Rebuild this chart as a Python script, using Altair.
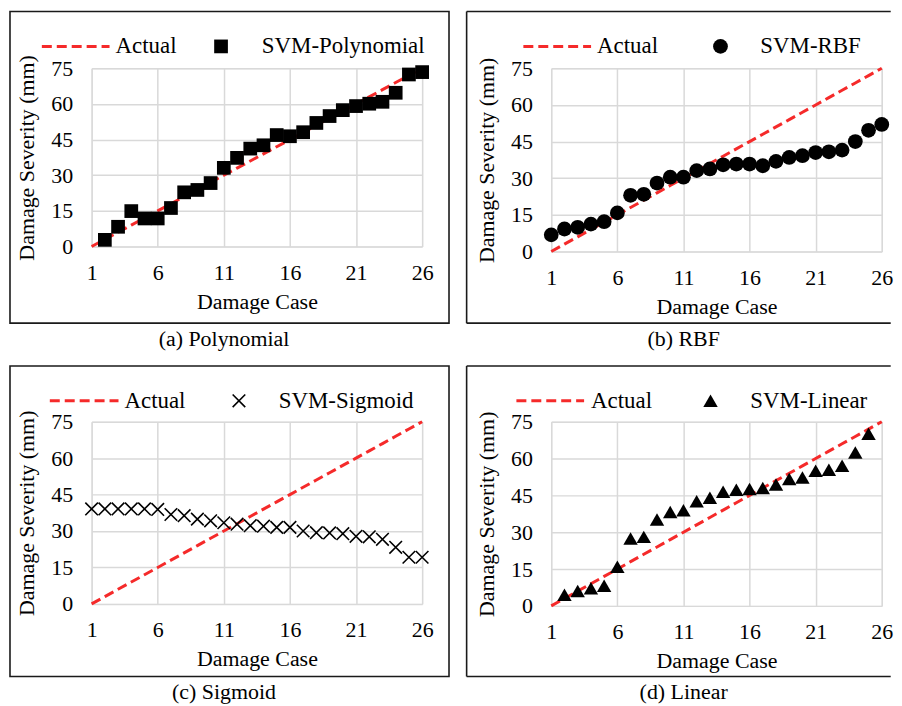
import altair as alt
import pandas as pd

FONT = "Liberation Serif"
RED = "#f52a2a"
GRID = "#d9d9d9"

# ---------------- data ----------------
cases = [1, 2, 3, 4, 5, 6, 7, 8, 9, 10, 11, 12, 13, 14, 15, 16, 17, 18, 19, 20, 21, 22, 23, 24, 25, 26]
actual = [0, 3, 6, 9, 12, 15, 18, 21, 24, 27, 30, 33, 36, 39, 42, 45, 48, 51, 54, 57, 60, 63, 66, 69, 72, 75]

poly_cases = [2, 3, 4, 5, 6, 7, 8, 9, 10, 11, 12, 13, 14, 15, 16, 17, 18, 19, 20, 21, 22, 23, 24, 25, 26]
poly_vals = [2.8, 8.3, 14.9, 11.8, 11.8, 16.2, 22.8, 23.8, 26.7, 33.1, 37.3, 41.2, 42.6, 46.9, 46.4,
             48.1, 52.0, 54.9, 57.4, 59.1, 60.1, 60.9, 64.7, 72.4, 73.4]

rbf_cases = [1, 2, 3, 4, 5, 6, 7, 8, 9, 10, 11, 12, 13, 14, 15, 16, 17, 18, 19, 20, 21, 22, 23, 24, 25, 26]
rbf_vals = [6.8, 9.2, 9.9, 11.2, 12.2, 15.8, 23.0, 23.4, 28.0, 30.4, 30.4, 33.1, 33.8, 35.5, 35.8,
            35.8, 35.1, 36.9, 38.5, 39.2, 40.5, 40.8, 41.5, 45.0, 49.6, 52.0]

sig_cases = [1, 2, 3, 4, 5, 6, 7, 8, 9, 10, 11, 12, 13, 14, 15, 16, 17, 18, 19, 20, 21, 22, 23, 24, 25, 26]
sig_vals = [39.1, 39.1, 39.1, 39.1, 39.1, 38.9, 36.8, 36.3, 34.9, 34.2, 33.4, 32.8, 32.2, 32.0, 31.5,
            31.5, 30.0, 29.3, 29.2, 28.9, 27.8, 27.6, 26.6, 23.3, 19.2, 19.2]

lin_cases = [2, 3, 4, 5, 6, 7, 8, 9, 10, 11, 12, 13, 14, 15, 16, 17, 18, 19, 20, 21, 22, 23, 24, 25]
lin_vals = [4.5, 6.1, 7.2, 8.2, 15.9, 27.4, 28.1, 35.2, 38.2, 38.9, 42.6, 44.0, 46.5, 47.3, 47.6,
            48.0, 49.4, 51.7, 52.3, 55.0, 55.4, 57.1, 62.5, 70.1]

x_ticks = [1, 6, 11, 16, 21, 26]
y_ticks = [0, 15, 30, 45, 60, 75]

series_names = ["SVM-Polynomial", "SVM-RBF", "SVM-Sigmoid", "SVM-Linear"]
captions = ["(a) Polynomial", "(b) RBF", "(c) Sigmoid", "(d) Linear"]
actual_name = "Actual"

XPATH = "M-1,-1L1,1M-1,1L1,-1"

one = pd.DataFrame({"k": [0]})

FS = 22      # axis labels / titles
LFS = 23     # legend
CFS = 22     # caption


def panel(pc, pv, name, caption, marker, W, H, leg, border, left_panel):
    actual_df = pd.DataFrame({"case": cases, "value": actual})
    pred_df = pd.DataFrame({"case": pc, "value": pv})

    xenc = alt.X("case:Q", scale=alt.Scale(domain=[1, 26], nice=False, zero=False),
                 axis=alt.Axis(values=x_ticks, tickCount=10, title="Damage Case", grid=True,
                               gridColor=GRID, gridWidth=1.5, domain=False, ticks=False,
                               labelFlush=False, labelOverlap=False, labelFont=FONT,
                               labelFontSize=FS, labelColor="black", labelPadding=16,
                               titleFont=FONT, titleFontSize=FS, titleFontWeight="normal",
                               titleColor="black", titlePadding=8))
    yenc = alt.Y("value:Q", scale=alt.Scale(domain=[0, 75], nice=False),
                 axis=alt.Axis(values=y_ticks, tickCount=10, title="Damage Severity (mm)",
                               grid=True, gridColor=GRID, gridWidth=1.5, domain=False,
                               ticks=False, labelOverlap=False, labelFlush=False,
                               labelFont=FONT, labelFontSize=FS, labelColor="black",
                               labelPadding=19, titleFont=FONT, titleFontSize=FS,
                               titleFontWeight="normal", titleColor="black", titlePadding=12))

    line = alt.Chart(actual_df).mark_line(color=RED, strokeWidth=3, strokeDash=[10, 5]).encode(
        x=xenc, y=yenc)

    shape, size, filled, sw = marker
    pts = alt.Chart(pred_df).mark_point(shape=shape, size=size, filled=filled, color="black",
                                        opacity=1, strokeWidth=sw).encode(x="case:Q", y="value:Q")

    lx1, lx2, tx, mx, mlx, ly = leg
    leg_line = alt.Chart(one).mark_rule(color=RED, strokeWidth=3, strokeDash=[10, 5]).encode(
        x=alt.value(lx1), x2=alt.value(lx2), y=alt.value(ly))
    leg_t1 = alt.Chart(one).mark_text(font=FONT, fontSize=LFS, align="left", baseline="middle",
                                      color="black").encode(
        x=alt.value(tx), y=alt.value(ly), text=alt.value(actual_name))
    leg_m = alt.Chart(one).mark_point(shape=shape, size=size, filled=filled, color="black",
                                      opacity=1, strokeWidth=sw).encode(
        x=alt.value(mx), y=alt.value(ly))
    leg_t2 = alt.Chart(one).mark_text(font=FONT, fontSize=LFS, align="left", baseline="middle",
                                      color="black").encode(
        x=alt.value(mlx), y=alt.value(ly), text=alt.value(name))

    bl, bt, br, bb = border
    if left_panel:
        frame = [alt.Chart(one).mark_rect(fillOpacity=0, stroke="#1a1a1a", strokeWidth=1.6).encode(
            x=alt.value(bl), x2=alt.value(br), y=alt.value(bt), y2=alt.value(bb))]
    else:
        frame = [
            alt.Chart(one).mark_rule(color="#1a1a1a", strokeWidth=1.6).encode(
                x=alt.value(bl), x2=alt.value(br), y=alt.value(bt)),
            alt.Chart(one).mark_rule(color="#1a1a1a", strokeWidth=1.6).encode(
                x=alt.value(bl), x2=alt.value(br), y=alt.value(bb)),
            alt.Chart(one).mark_rule(color="#1a1a1a", strokeWidth=1.6).encode(
                x=alt.value(bl), y=alt.value(bt), y2=alt.value(bb)),
        ]

    cap = alt.Chart(one).mark_text(font=FONT, fontSize=CFS, align="center", baseline="middle",
                                   color="black").encode(
        x=alt.value(133), y=alt.value(272), text=alt.value(caption))

    return alt.layer(line, pts, leg_line, leg_t1, leg_m, leg_t2, *frame, cap).properties(
        width=W, height=H)


pa = panel(poly_cases, poly_vals, series_names[0], captions[0], ("square", 190, True, 1),
           332, 179, (-50, 18, 24, 130, 171, -22), (-82, -57, 359, 256), True)
pb = panel(rbf_cases, rbf_vals, series_names[1], captions[1], ("circle", 220, True, 1),
           332, 184, (-28, 40, 46, 170, 210, -22), (-85, -57, 341, 256), False)
pc = panel(sig_cases, sig_vals, series_names[2], captions[2], (XPATH, 160, False, 1.6),
           332, 183, (-42, 27, 33, 148, 188, -21), (-82, -56, 359, 256), True)
pd_ = panel(lin_cases, lin_vals, series_names[3], captions[3], ("triangle-up", 210, True, 1),
            332, 185, (-35, 33, 40, 160, 200, -21), (-85, -56, 341, 256), False)

chart = alt.concat(pa, pb, pc, pd_, columns=2, spacing={"row": 171, "column": 129.7},
                   bounds="flush").properties(
    padding=0, background="white"
).configure_view(strokeWidth=0).configure(font=FONT)

chart.save("out.html", embed_options={"renderer": "svg", "actions": False})
